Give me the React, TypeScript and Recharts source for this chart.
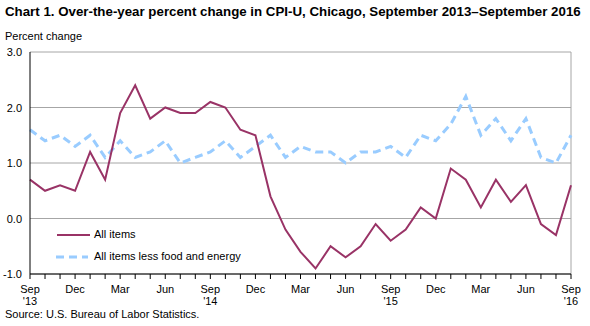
import React from "react";
import {
	LineChart,
	Line,
	XAxis,
	YAxis,
	CartesianGrid,
	ReferenceLine,
} from "recharts";

const months = [
	"Sep 2013", "Oct 2013", "Nov 2013", "Dec 2013",
	"Jan 2014", "Feb 2014", "Mar 2014", "Apr 2014", "May 2014", "Jun 2014",
	"Jul 2014", "Aug 2014", "Sep 2014", "Oct 2014", "Nov 2014", "Dec 2014",
	"Jan 2015", "Feb 2015", "Mar 2015", "Apr 2015", "May 2015", "Jun 2015",
	"Jul 2015", "Aug 2015", "Sep 2015", "Oct 2015", "Nov 2015", "Dec 2015",
	"Jan 2016", "Feb 2016", "Mar 2016", "Apr 2016", "May 2016", "Jun 2016",
	"Jul 2016", "Aug 2016", "Sep 2016",
];

const allItems = [
	0.7, 0.5, 0.6, 0.5,
	1.2, 0.7, 1.9, 2.4, 1.8, 2.0, 1.9, 1.9, 2.1, 2.0, 1.6, 1.5,
	0.4, -0.2, -0.6, -0.9, -0.5, -0.7, -0.5, -0.1, -0.4, -0.2, 0.2, 0.0,
	0.9, 0.7, 0.2, 0.7, 0.3, 0.6, -0.1, -0.3, 0.6,
];

const coreItems = [
	1.6, 1.4, 1.5, 1.3,
	1.5, 1.1, 1.4, 1.1, 1.2, 1.4, 1.0, 1.1, 1.2, 1.4, 1.1, 1.3,
	1.5, 1.1, 1.3, 1.2, 1.2, 1.0, 1.2, 1.2, 1.3, 1.1, 1.5, 1.4,
	1.7, 2.2, 1.5, 1.8, 1.4, 1.8, 1.1, 1.0, 1.5,
];

const yTicks = [-1, 0, 1, 2, 3];

const data = months.map((m, i) => ({
	month: m,
	all: allItems[i],
	core: coreItems[i],
}));

const font = "'Liberation Sans', Arial, sans-serif";

const MonthTick = (props: any) => {
	const { x, y, payload, index } = props;
	if (index % 3 !== 0) return null;
	const [mon, yr] = String(payload.value).split(" ");
	const showYear = mon === "Sep";
	return (
		<g>
			<text x={x} y={y + 12} textAnchor="middle" fontSize={11} fill="#000" fontFamily={font}>
				{mon}
			</text>
			{showYear && (
				<text x={x} y={y + 24} textAnchor="middle" fontSize={11} fill="#000" fontFamily={font}>
					{"'" + yr.slice(2)}
				</text>
			)}
		</g>
	);
};

const ValueTick = (props: any) => {
	const { y, payload } = props;
	return (
		<text x={22} y={y + 4} textAnchor="end" fontSize={11} fill="#000" fontFamily={font}>
			{Number(payload.value).toFixed(1)}
		</text>
	);
};

export default function App() {
	return (
		<div style={{ position: "absolute", left: 0, top: 0, width: 590, height: 326, background: "#fff", fontFamily: font }}>
			<div style={{ position: "absolute", left: 5, top: 4, fontSize: 13.3, fontWeight: "bold", whiteSpace: "nowrap" }}>
				Chart 1. Over-the-year percent change in CPI-U, Chicago, September 2013–September 2016
			</div>
			<div style={{ position: "absolute", left: 5, top: 30, fontSize: 11 }}>Percent change</div>
			<LineChart
				width={590}
				height={326}
				data={data}
				margin={{ top: 52, right: 19, left: 0, bottom: 17 }}
			>
				<CartesianGrid vertical={false} stroke="#a6a6a6" />
				<XAxis
					dataKey="month"
					interval={0}
					height={35}
					tick={<MonthTick />}
					tickSize={5}
					axisLine={{ stroke: "#000" }}
					tickLine={{ stroke: "#000" }}
				/>
				<YAxis
					width={30}
					domain={[-1, 3]}
					ticks={yTicks}
					tickLine={false}
					axisLine={{ stroke: "#000" }}
					tick={<ValueTick />}
				/>
				<ReferenceLine x={months[months.length - 1]} stroke="#a6a6a6" />
				<Line
					type="linear"
					dataKey="core"
					stroke="#99ccff"
					strokeWidth={3}
					strokeDasharray="8 5"
					dot={false}
					isAnimationActive={false}
				/>
				<Line
					type="linear"
					dataKey="all"
					stroke="#993366"
					strokeWidth={2}
					dot={false}
					isAnimationActive={false}
				/>
			</LineChart>
			<svg style={{ position: "absolute", left: 0, top: 0 }} width={590} height={326}>
				<line x1={57} y1={235} x2={90} y2={235} stroke="#993366" strokeWidth={2} />
				<line x1={56} y1={257} x2={88} y2={257} stroke="#99ccff" strokeWidth={3} strokeDasharray="8 5" />
			</svg>
			<div style={{ position: "absolute", left: 94, top: 228, fontSize: 11 }}>All items</div>
			<div style={{ position: "absolute", left: 94, top: 250, fontSize: 11 }}>All items less food and energy</div>
			<div style={{ position: "absolute", left: 5, top: 308, fontSize: 11 }}>Source: U.S. Bureau of Labor Statistics.</div>
		</div>
	);
}
